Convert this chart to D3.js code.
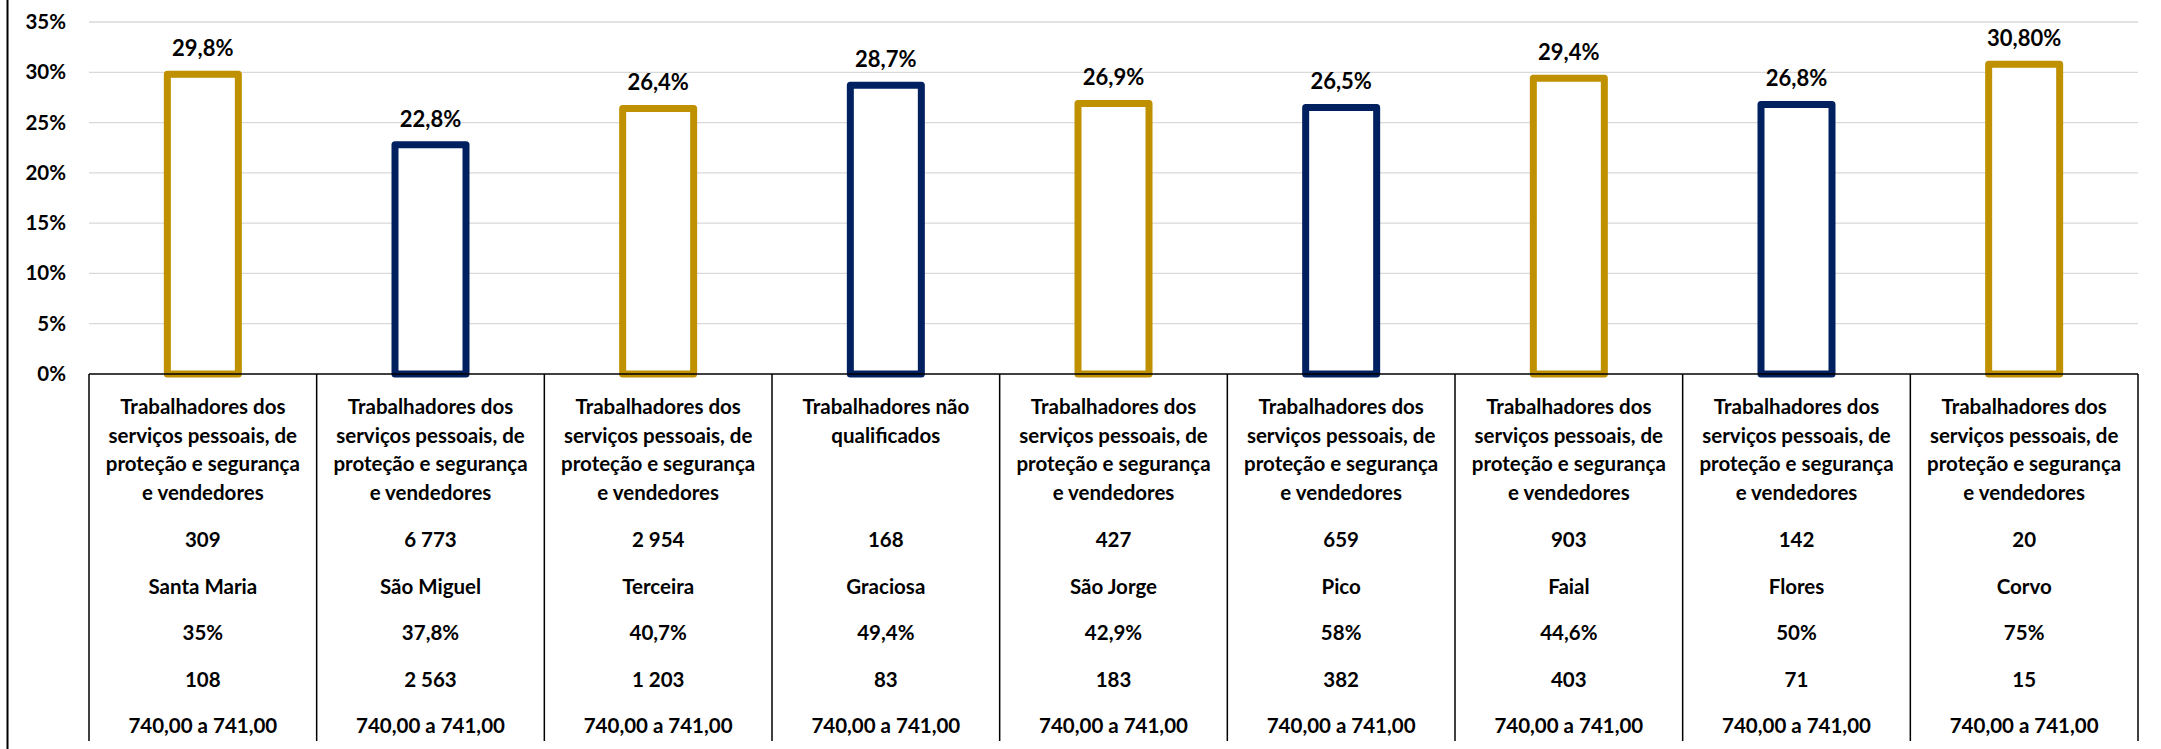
<!DOCTYPE html>
<html><head><meta charset="utf-8">
<script src="https://cdn.jsdelivr.net/npm/d3@7"></script>
<style>
html,body{margin:0;padding:0;background:#fff;}
svg text{font-family:Lato,"Open Sans",sans-serif;font-weight:bold;fill:#000;}
</style></head>
<body>
<svg id="chart" width="2161" height="749"></svg>
<script>
const islands = ["Santa Maria","São Miguel","Terceira","Graciosa","São Jorge","Pico","Faial","Flores","Corvo"];
const occupations = [
  "Trabalhadores dos\nserviços pessoais, de\nproteção e segurança\ne vendedores",
  "Trabalhadores dos\nserviços pessoais, de\nproteção e segurança\ne vendedores",
  "Trabalhadores dos\nserviços pessoais, de\nproteção e segurança\ne vendedores",
  "Trabalhadores não\nqualificados",
  "Trabalhadores dos\nserviços pessoais, de\nproteção e segurança\ne vendedores",
  "Trabalhadores dos\nserviços pessoais, de\nproteção e segurança\ne vendedores",
  "Trabalhadores dos\nserviços pessoais, de\nproteção e segurança\ne vendedores",
  "Trabalhadores dos\nserviços pessoais, de\nproteção e segurança\ne vendedores",
  "Trabalhadores dos\nserviços pessoais, de\nproteção e segurança\ne vendedores"
];
const barValues = [29.8, 22.8, 26.4, 28.7, 26.9, 26.5, 29.4, 26.8, 30.8];
const barLabels = ["29,8%","22,8%","26,4%","28,7%","26,9%","26,5%","29,4%","26,8%","30,80%"];
const barGroup = ["gold","navy","gold","navy","gold","navy","gold","navy","gold"];
const totals = ["309","6 773","2 954","168","427","659","903","142","20"];
const shares = ["35%","37,8%","40,7%","49,4%","42,9%","58%","44,6%","50%","75%"];
const counts = ["108","2 563","1 203","83","183","382","403","71","15"];
const salaryRange = ["740,00 a 741,00","740,00 a 741,00","740,00 a 741,00","740,00 a 741,00","740,00 a 741,00","740,00 a 741,00","740,00 a 741,00","740,00 a 741,00","740,00 a 741,00"];
const yTicks = [0,5,10,15,20,25,30,35];

const colors = {gold:"#BF9000", navy:"#002060"};
const svg = d3.select("#chart");
const plotLeft = 89, plotRight = 2138, plotTop = 22, plotBase = 374, tableBottom = 741;
const fsTick = 20.5, fsVal = 22, fsTable = 20.5;

const x = d3.scaleBand().domain(d3.range(islands.length)).range([plotLeft, plotRight]).padding(0);
const y = d3.scaleLinear().domain([0, 35]).range([plotBase, plotTop]);

svg.append("line").attr("x1",7.5).attr("x2",7.5).attr("y1",0).attr("y2",749)
  .attr("stroke","#000").attr("stroke-width",2);

svg.append("g").selectAll("line").data(yTicks.filter(d=>d>0)).join("line")
  .attr("x1",plotLeft).attr("x2",plotRight).attr("y1",d=>y(d)).attr("y2",d=>y(d))
  .attr("stroke","#d9d9d9").attr("stroke-width",1.3);

const yAxis = d3.axisLeft(y).tickValues(yTicks).tickFormat(d=>d+"%").tickSize(0).tickPadding(0);
const ga = svg.append("g").attr("transform","translate(66,0)").call(yAxis);
ga.select(".domain").remove();
ga.selectAll("text").attr("font-size",fsTick).attr("font-family","Lato").attr("font-weight","bold").attr("fill","#000");

const bw = 71;
svg.append("g").selectAll("rect").data(barValues).join("rect")
  .attr("x",(d,i)=>x(i)+x.bandwidth()/2-bw/2)
  .attr("y",d=>y(d))
  .attr("width",bw)
  .attr("height",d=>y(0)-y(d))
  .attr("fill","#fff")
  .attr("stroke",(d,i)=>colors[barGroup[i]])
  .attr("stroke-width",7)
  .attr("stroke-linejoin","round");

svg.append("g").selectAll("text").data(barValues).join("text")
  .attr("x",(d,i)=>x(i)+x.bandwidth()/2)
  .attr("y",d=>y(d)-18)
  .attr("text-anchor","middle").attr("font-size",fsVal)
  .text((d,i)=>barLabels[i]);

svg.append("line").attr("x1",plotLeft).attr("x2",plotRight).attr("y1",plotBase).attr("y2",plotBase)
  .attr("stroke","#000").attr("stroke-width",1.5);

svg.append("g").selectAll("line").data(d3.range(islands.length+1)).join("line")
  .attr("x1",i=>i<islands.length?x(i):plotRight).attr("x2",i=>i<islands.length?x(i):plotRight)
  .attr("y1",plotBase).attr("y2",tableBottom)
  .attr("stroke","#000").attr("stroke-width",1.5);

const lineH = 28.6, firstLine = 407;
svg.append("g").selectAll("text").data(occupations).join("text")
  .attr("text-anchor","middle").attr("font-size",fsTable)
  .each(function(label,i){
    const cx = x(i)+x.bandwidth()/2;
    d3.select(this).selectAll("tspan").data(label.split("\n")).join("tspan")
      .attr("x",cx).attr("y",(ln,k)=>firstLine+k*lineH).attr("dy","0.35em").text(ln=>ln);
  });

const rows = [[totals,540],[islands,586.5],[shares,633],[counts,680],[salaryRange,725.5]];
rows.forEach(([arr,ry])=>{
  svg.append("g").selectAll("text").data(arr).join("text")
    .attr("x",(d,i)=>x(i)+x.bandwidth()/2).attr("y",ry).attr("dy","0.35em")
    .attr("text-anchor","middle").attr("font-size",fsTable).text(d=>d);
});
</script>
</body></html>
